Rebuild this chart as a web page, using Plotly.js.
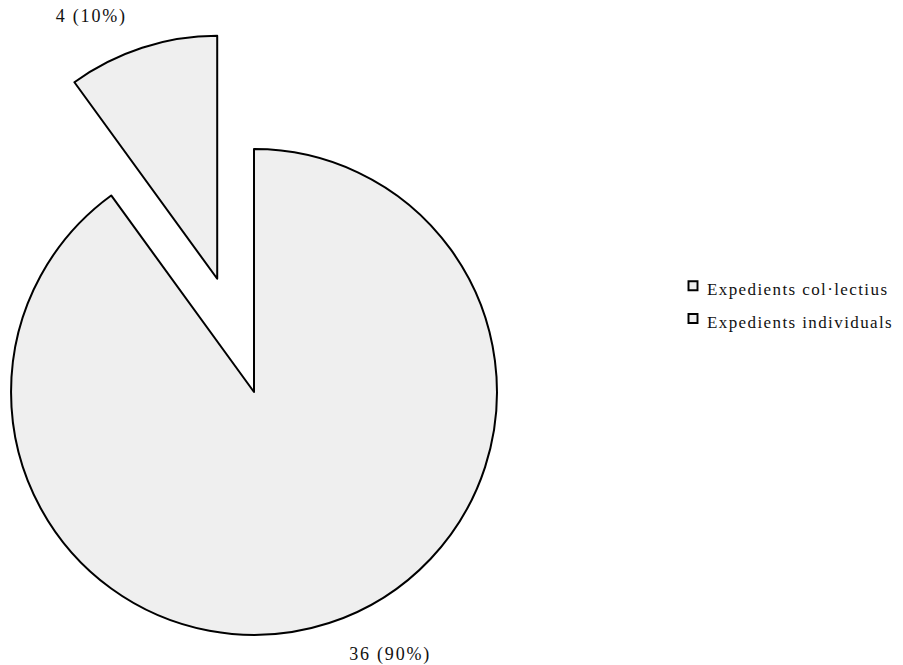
<!DOCTYPE html>
<html>
<head>
<meta charset="utf-8">
<script src="https://cdn.plot.ly/plotly-3.0.1.min.js"></script>
<style>
  html, body { margin: 0; padding: 0; overflow: hidden; background: #fff; width: 903px; height: 665px; }
  #chart { position: absolute; left: -108px; top: 0; width: 1150px; height: 760px; }
  #chart svg text { letter-spacing: 1.8px; }
  #chart .legendtext { letter-spacing: 1.4px; font-size: 17px !important; }
  #chart .legendpie { transform: translate(26px, 0px) scale(0.75); stroke-width: 2.6px !important; }
</style>
</head>
<body>
<div id="chart"></div>
<script>
const categories = ['Expedients col·lectius', 'Expedients individuals'];
const values = [4, 36];
const pulls = [0.49, 0];
// label templates (blank line / non-breaking spaces only nudge the outside labels)
const NB = '\u00a0';
const labelTemplates = [
  '%{value} (%{percent:.0%})' + NB + NB + '<br>' + NB,
  NB + '<br>' + NB + NB + NB + '%{value} (%{percent:.0%})'
];

const FIG_W = 1150;
const trace = {
  type: 'pie',
  labels: categories,
  values: values,
  pull: pulls,
  sort: false,
  direction: 'clockwise',
  rotation: -36,
  marker: { colors: ['#efefef', '#efefef'], line: { color: '#000', width: 2 } },
  texttemplate: labelTemplates,
  textposition: 'outside',
  textfont: { family: 'Liberation Serif', size: 18, color: '#111' },
  hoverinfo: 'label+value+percent',
  domain: { x: [0, 724 / FIG_W], y: [0, 1] }
};

const layout = {
  width: FIG_W,
  height: 760,
  margin: { l: 0, r: 0, t: 30, b: 6 },
  paper_bgcolor: '#fff',
  showlegend: true,
  legend: {
    x: (790 - 15) / FIG_W, xanchor: 'left',
    y: 0.624, yanchor: 'middle',
    font: { family: 'Liberation Serif', size: 23, color: '#111' },
    bgcolor: 'rgba(0,0,0,0)'
  },
  font: { family: 'Liberation Serif' }
};

Plotly.newPlot('chart', [trace], layout, { displayModeBar: false, staticPlot: true });
</script>
</body>
</html>
